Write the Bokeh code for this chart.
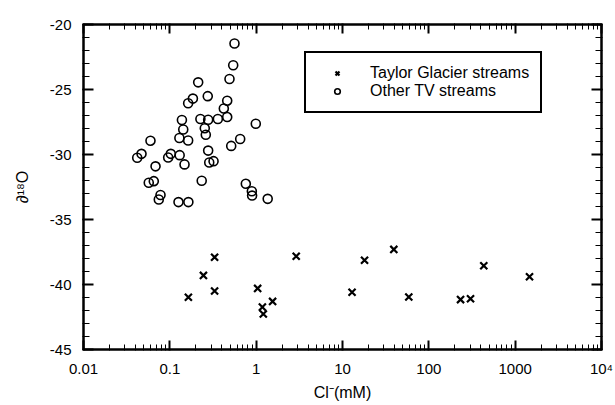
from bokeh.plotting import figure
from bokeh.models import (Range1d, FixedTicker, BasicTicker, LogAxis, LinearAxis,
                          Legend, LegendItem)
from bokeh.embed import file_html
from bokeh.resources import INLINE

# Taylor Glacier streams
tg_cl = [0.164, 0.245, 0.33, 0.33, 1.04, 1.18, 1.21, 1.55, 2.91, 12.9, 18.0, 39.3, 58.6, 233, 304, 433, 1466]
tg_d18o = [-40.98, -39.3, -37.9, -40.5, -40.3, -41.74, -42.27, -41.3, -37.83, -40.6, -38.13, -37.3, -40.96, -41.16, -41.1, -38.56, -39.4]

# Other TV streams
tv_cl = [0.561, 0.542, 0.491, 0.213, 0.275, 0.185, 0.163, 0.462, 0.422, 0.462, 0.360, 0.278,
         0.226, 0.138, 0.99, 0.254, 0.143, 0.261, 0.129, 0.163, 0.653, 0.0597, 0.514, 0.278,
         0.047, 0.0419, 0.1026, 0.0957, 0.130, 0.0683, 0.148, 0.286, 0.321, 0.057, 0.0652,
         0.234, 0.759, 0.891, 0.897, 0.078, 0.0745, 0.126, 0.164, 1.36]
tv_d18o = [-21.46, -23.13, -24.19, -24.45, -25.51, -25.70, -26.06, -25.86, -26.46, -27.12, -27.27, -27.33,
           -27.27, -27.35, -27.63, -27.98, -28.08, -28.48, -28.73, -28.92, -28.81, -28.94, -29.34, -29.70,
           -29.95, -30.25, -29.95, -30.23, -30.05, -30.91, -30.76, -30.61, -30.51, -32.17, -32.05,
           -32.02, -32.25, -32.83, -33.16, -33.11, -33.46, -33.66, -33.66, -33.41]

x_ticks = [0.01, 0.1, 1, 10, 100, 1000, 10000]
x_tick_labels = ["0.01", "0.1", "1", "10", "100", "1000", "10\u2074"]
y_tick_labels = {-20: "-20", -25: "-25", -30: "-30", -35: "-35", -40: "-40", -45: "-45"}
x_minor = [m * t for t in x_ticks[:-1] for m in range(2, 10)]

p = figure(width=613, height=403, x_axis_type="log",
           x_range=Range1d(0.01, 10000), y_range=Range1d(-45, -20),
           output_backend="svg", toolbar_location=None,
           min_border_left=83, min_border_top=24, min_border_right=12, min_border_bottom=50)
p.xgrid.grid_line_color = "white"
p.ygrid.grid_line_color = "white"
p.outline_line_color = "black"
p.outline_line_width = 2

xa = p.below[0]
xa.ticker = FixedTicker(ticks=x_ticks, minor_ticks=x_minor)
xa.major_label_overrides = dict(zip(x_ticks, x_tick_labels))
xa.axis_label = "Cl\u207b(mM)"
xa.major_label_standoff = 9
xa.axis_label_standoff = 4
xa.major_tick_in = 9
xa.major_tick_out = 1
xa.minor_tick_in = 5
xa.minor_tick_out = 1

ya = p.left[0]
ya.ticker = BasicTicker(desired_num_ticks=6, num_minor_ticks=5)
ya.major_label_overrides = y_tick_labels
ya.axis_label = "\u2202\u00b9\u2078O"
ya.major_label_standoff = 11
ya.axis_label_standoff = 16
ya.major_tick_in = 10
ya.major_tick_out = 1
ya.minor_tick_in = 6
ya.minor_tick_out = 1

top = LogAxis(ticker=FixedTicker(ticks=x_ticks, minor_ticks=x_minor),
              major_tick_in=9, major_tick_out=1, minor_tick_in=5, minor_tick_out=1,
              major_label_text_alpha=0, major_label_text_font_size="2px", major_label_standoff=0)
p.add_layout(top, "above")
right = LinearAxis(ticker=BasicTicker(desired_num_ticks=6, num_minor_ticks=5),
                   major_tick_in=10, major_tick_out=1, minor_tick_in=6, minor_tick_out=1,
                   major_label_text_alpha=0, major_label_text_font_size="2px", major_label_standoff=0)
p.add_layout(right, "right")

for ax in [xa, ya, top, right]:
    ax.axis_line_width = 2
    ax.axis_line_color = "black"
    ax.major_tick_line_width = 2
    ax.minor_tick_line_width = 1
    ax.major_tick_line_color = "black"
    ax.minor_tick_line_color = "black"
    ax.axis_label_text_font_style = "normal"
    ax.axis_label_text_font_size = "16px"
    ax.axis_label_text_color = "black"
for ax in [xa, ya]:
    ax.major_label_text_font_size = "15px"
    ax.major_label_text_color = "black"

r1 = p.scatter(tg_cl, tg_d18o, marker="x", size=10, line_color="black", line_width=2.2)
r2 = p.scatter(tv_cl, tv_d18o, marker="circle", size=9, line_color="black",
               fill_color=None, line_width=1.6)

legend = Legend(items=[LegendItem(label="Taylor Glacier streams", renderers=[r1]),
                       LegendItem(label="Other TV streams", renderers=[r2])],
                location=(221, 236),
                padding=11, spacing=0, glyph_width=40, glyph_height=14, label_height=14,
                label_standoff=13, label_text_font_size="16px",
                label_text_color="black", border_line_color="black", border_line_width=2,
                border_line_alpha=1,
                background_fill_color="white", background_fill_alpha=1, margin=0)
p.add_layout(legend, "center")

open("out.html", "w").write(file_html(p, INLINE))
